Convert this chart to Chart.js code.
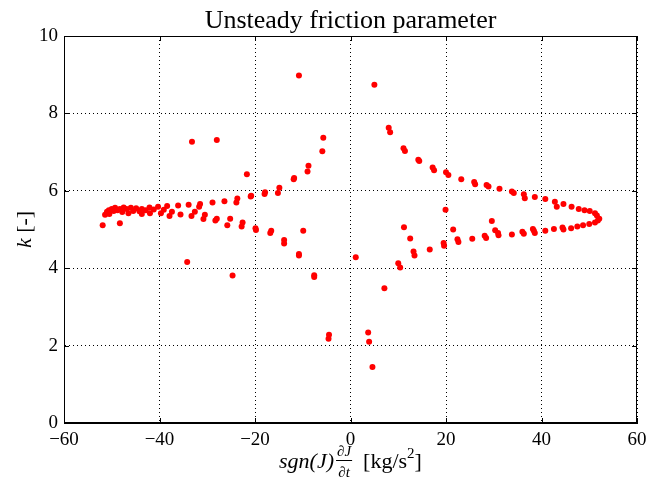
<!DOCTYPE html>
<html>
<head>
<meta charset="utf-8">
<script src="https://cdn.jsdelivr.net/npm/chart.js@4.4.1/dist/chart.umd.min.js"></script>
<style>
  html, body { margin: 0; padding: 0; background: #fff; }
  #wrap { width: 649px; height: 478px; position: relative; }
</style>
</head>
<body>
<div id="wrap"><canvas id="chart" width="649" height="478"></canvas></div>
<script>
// axis ticks
const xTicks = [-60, -40, -20, 0, 20, 40, 60];
const kTicks = [0, 2, 4, 6, 8, 10];

// left loop, upper branch
const leftUpperX = [-51.9, -51.4, -51.0, -50.6, -50.0, -49.6, -49.3, -48.8, -48.3, -47.8, -47.5, -46.9, -46.0, -45.5, -44.9, -44.2, -43.7, -42.9, -42.1, -41.2, -40.3, -39.1, -38.4, -36.1, -33.9, -31.7, -31.5, -28.9, -26.4, -23.9, -23.7, -20.9, -20.8, -18.0, -17.9, -15.2, -14.9, -11.9, -11.8, -9.0, -8.8, -5.9, -5.7];
const leftUpperK = [5.11, 5.38, 5.46, 5.50, 5.53, 5.48, 5.56, 5.50, 5.53, 5.45, 5.57, 5.53, 5.56, 5.48, 5.55, 5.47, 5.53, 5.50, 5.57, 5.52, 5.59, 5.51, 5.61, 5.62, 5.64, 5.59, 5.66, 5.70, 5.73, 5.70, 5.80, 5.85, 5.87, 5.92, 5.96, 5.94, 6.08, 6.30, 6.33, 6.50, 6.65, 7.02, 7.37];

// left loop, lower branch
const leftLowerX = [-50.5, -48.3, -46.5, -43.7, -42.0, -39.7, -37.9, -37.4, -35.6, -33.3, -32.6, -30.8, -30.5, -28.3, -28.0, -25.8, -25.2, -22.8, -22.6, -19.9, -19.8, -16.8, -16.6, -13.9, -13.9, -10.8, -10.8, -7.6, -7.6, -4.5, -4.6];
const leftLowerK = [5.40, 5.16, 5.42, 5.40, 5.42, 5.42, 5.35, 5.46, 5.39, 5.35, 5.46, 5.27, 5.38, 5.23, 5.28, 5.11, 5.28, 5.08, 5.18, 5.03, 4.99, 4.91, 4.97, 4.73, 4.64, 4.37, 4.33, 3.82, 3.77, 2.28, 2.18];

// right loop, upper branch
const rightUpperX = [5.0, 8.0, 8.3, 11.1, 11.4, 14.2, 14.4, 17.2, 17.5, 20.0, 20.5, 23.2, 25.9, 26.1, 28.5, 28.9, 31.2, 33.8, 34.2, 36.3, 36.5, 38.6, 40.8, 42.8, 43.2, 44.6, 46.3, 47.8, 49.0, 50.1, 51.2, 51.6, 52.1];
const rightUpperK = [8.74, 7.63, 7.51, 7.10, 7.03, 6.80, 6.77, 6.60, 6.53, 6.48, 6.41, 6.30, 6.23, 6.17, 6.15, 6.11, 6.05, 5.98, 5.94, 5.91, 5.81, 5.84, 5.79, 5.72, 5.59, 5.66, 5.59, 5.53, 5.50, 5.48, 5.42, 5.36, 5.28];

// right loop, lower branch
const rightLowerX = [51.8, 51.2, 50.0, 48.7, 47.5, 46.2, 44.6, 44.4, 42.6, 40.8, 38.6, 38.4, 38.2, 36.3, 36.0, 33.8, 31.0, 30.9, 30.3, 28.4, 28.1, 25.5, 22.6, 22.4, 21.5, 19.6, 19.5, 16.6, 13.4, 13.2, 12.5, 11.2, 10.4, 10.0, 7.1, 3.9, 3.7, 4.6];
const rightLowerK = [5.23, 5.18, 5.14, 5.11, 5.08, 5.03, 5.00, 5.05, 5.01, 4.97, 4.91, 4.97, 5.01, 4.89, 4.94, 4.87, 4.85, 4.91, 4.98, 4.78, 4.84, 4.76, 4.68, 4.75, 5.00, 4.58, 4.65, 4.48, 4.33, 4.43, 4.77, 5.06, 4.02, 4.13, 3.48, 2.10, 2.34, 1.45];

// scattered points
const strayX = [-33.2, -28.0, -10.8, -21.7, -9.9, -34.2, -24.7, 1.1, 19.9, 29.6];
const strayK = [7.27, 7.31, 8.98, 6.43, 4.97, 4.16, 3.81, 4.28, 5.51, 5.22];

function pairs(xs, ks) {
    return xs.map((x, i) => ({ x: x, y: ks[i] }));
}

const points = [].concat(
    pairs(leftUpperX, leftUpperK),
    pairs(leftLowerX, leftLowerK),
    pairs(rightUpperX, rightUpperK),
    pairs(rightLowerX, rightLowerK),
    pairs(strayX, strayK)
);

const SERIF = '"Liberation Serif", "DejaVu Serif", serif';

// box, inward ticks, title and axis labels drawn matplotlib-style
const decorations = {
    id: 'decorations',
    afterDraw(chart) {
        const c = chart.ctx;
        const a = chart.chartArea;
        const xs = chart.scales.x, ys = chart.scales.y;
        c.save();
        c.strokeStyle = '#000';
        c.lineWidth = 1;
        c.beginPath();
        xTicks.forEach(v => {
            const px = Math.round(xs.getPixelForValue(v)) + 0.5;
            c.moveTo(px, a.bottom); c.lineTo(px, a.bottom - 5);
            c.moveTo(px, a.top); c.lineTo(px, a.top + 5);
        });
        kTicks.forEach(v => {
            const py = Math.round(ys.getPixelForValue(v)) + 0.5;
            c.moveTo(a.left, py); c.lineTo(a.left + 5, py);
            c.moveTo(a.right, py); c.lineTo(a.right - 5, py);
        });
        c.stroke();
        c.strokeRect(a.left + 0.5, a.top + 0.5, a.right - a.left - 1, a.bottom - a.top - 1);

        c.fillStyle = '#000';
        // title
        c.font = '26px ' + SERIF;
        c.textAlign = 'center';
        c.textBaseline = 'alphabetic';
        c.fillText('Unsteady friction parameter', (a.left + a.right) / 2, 28);

        // y label: k [-]
        c.save();
        c.translate(31, (a.top + a.bottom) / 2);
        c.rotate(-Math.PI / 2);
        c.textAlign = 'left';
        c.font = 'italic 22px ' + SERIF;
        const kW = c.measureText('k').width;
        c.font = '22px ' + SERIF;
        const restW = c.measureText(' [-]').width;
        let sx = -(kW + restW) / 2;
        c.font = 'italic 22px ' + SERIF;
        c.fillText('k', sx, 0);
        c.font = '22px ' + SERIF;
        c.fillText(' [-]', sx + kW, 0);
        c.restore();

        // x label: sgn(J) dJ/dt [kg/s^2]
        const base = 468;
        c.textAlign = 'left';
        const partA = 'sgn(J)';
        c.font = 'italic 22px ' + SERIF;
        const wA = c.measureText(partA).width;
        c.font = 'italic 15px ' + SERIF;
        const wNum = c.measureText('\u2202J').width;
        const wDen = c.measureText('\u2202t').width;
        const wFrac = Math.max(wNum, wDen) + 2;
        c.font = '22px ' + SERIF;
        const wB = c.measureText('  [kg/s').width;
        c.font = '15px ' + SERIF;
        const wSup = c.measureText('2').width;
        c.font = '22px ' + SERIF;
        const wC = c.measureText(']').width;
        const total = wA + 2 + wFrac + wB + wSup + wC;
        let x0 = (a.left + a.right) / 2 - total / 2;

        c.font = 'italic 22px ' + SERIF;
        c.fillText(partA, x0, base);
        x0 += wA + 2;
        c.font = 'italic 15px ' + SERIF;
        c.textAlign = 'center';
        c.fillText('\u2202J', x0 + wFrac / 2, base - 12);
        c.fillText('\u2202t', x0 + wFrac / 2, base + 9);
        c.fillRect(x0, base - 8, wFrac, 1);
        c.textAlign = 'left';
        x0 += wFrac;
        c.font = '22px ' + SERIF;
        c.fillText('  [kg/s', x0, base);
        x0 += wB;
        c.font = '15px ' + SERIF;
        c.fillText('2', x0, base - 10);
        x0 += wSup;
        c.font = '22px ' + SERIF;
        c.fillText(']', x0, base);
        c.restore();
    }
};

const minus = v => String(v).replace('-', '\u2212');

new Chart(document.getElementById('chart'), {
    type: 'scatter',
    data: {
        datasets: [{
            data: points,
            backgroundColor: '#ff0000',
            borderWidth: 0,
            pointRadius: 3,
            pointHoverRadius: 3
        }]
    },
    options: {
        responsive: false,
        animation: false,
        events: [],
        layout: { padding: { left: 0, top: 36, right: 12, bottom: 0 } },
        plugins: { legend: { display: false }, tooltip: { enabled: false } },
        scales: {
            x: {
                type: 'linear',
                min: -60, max: 60,
                afterFit: s => { s.height = 55; s.paddingLeft = 0; s.paddingRight = 0; },
                afterBuildTicks: s => { s.ticks = xTicks.map(v => ({ value: v })); },
                grid: { color: '#000', lineWidth: 1, drawTicks: false },
                border: { display: true, color: '#000', width: 1, dash: [1, 3] },
                ticks: {
                    padding: 6,
                    color: '#000',
                    font: { family: SERIF, size: 19 },
                    callback: minus
                }
            },
            y: {
                min: 0, max: 10,
                afterFit: s => { s.width = 64; s.paddingTop = 0; s.paddingBottom = 0; },
                afterBuildTicks: s => { s.ticks = kTicks.map(v => ({ value: v })); },
                grid: { color: '#000', lineWidth: 1, drawTicks: false },
                border: { display: true, color: '#000', width: 1, dash: [1, 3] },
                ticks: {
                    padding: 6,
                    color: '#000',
                    font: { family: SERIF, size: 19 },
                    callback: minus
                }
            }
        }
    },
    plugins: [decorations]
});
</script>
</body>
</html>
